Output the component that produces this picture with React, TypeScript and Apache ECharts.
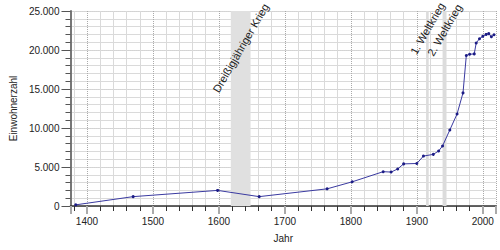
import React, { useEffect, useRef } from "react";
import * as echarts from "echarts";

const years = [1383, 1470, 1598, 1661, 1764, 1802, 1849, 1861, 1871, 1880, 1900, 1910, 1925, 1933, 1939, 1950, 1961, 1970, 1975, 1980, 1987, 1990, 1995, 2000, 2005, 2009, 2013, 2017];
const population = [150, 1200, 2000, 1200, 2200, 3100, 4400, 4350, 4750, 5400, 5450, 6400, 6620, 7050, 7700, 9750, 11800, 14500, 19300, 19450, 19500, 20900, 21450, 21750, 22000, 22100, 21700, 21950];

const periodNames = ["Dreißigjähriger Krieg", "1. Weltkrieg", "2. Weltkrieg"];
const periodStart = [1618, 1914, 1939];
const periodEnd = [1648, 1918, 1945];

const FONT = "'Liberation Sans', Arial, sans-serif";
const X_MIN = 1375;
const X_MAX = 2020;
const Y_MIN = 0;
const Y_MAX = 25000;

function fmt(v: number): string {
  return String(v).replace(/\B(?=(\d{3})+(?!\d))/g, ".");
}

export default function App() {
  const ref = useRef<HTMLDivElement>(null);
  useEffect(() => {
    if (!ref.current) return;
    const chart = echarts.init(ref.current, null, { renderer: "svg" });
    const labelOffsets = [37, 17.5, 19];
    const areaData = periodNames.map((name, i) => [
      {
        name,
        xAxis: periodStart[i],
        itemStyle: { color: i === 0 ? "#e0e0e0" : "#dcdcdc" },
        label: {
          show: true,
          position: ["50%", labelOffsets[i]],
          rotate: 60,
          align: "center",
          verticalAlign: "middle",
          color: "#222",
          fontSize: 11,
          fontFamily: FONT,
        },
      },
      { xAxis: periodEnd[i] },
    ]);

    chart.setOption({
      animation: false,
      grid: { left: 68, right: 4, top: 11, bottom: 44 },
      xAxis: {
        type: "value",
        min: X_MIN,
        max: X_MAX,
        minInterval: 100,
        maxInterval: 100,
        name: "Jahr",
        nameLocation: "middle",
        nameGap: 27,
        nameTextStyle: { color: "#222", fontSize: 10, fontFamily: FONT },
        axisLine: { show: true, lineStyle: { color: "#333", width: 1.5 } },
        axisTick: { show: true, length: 8, lineStyle: { color: "#aaa", width: 2 } },
        minorTick: { show: true, splitNumber: 5, length: 5, lineStyle: { color: "#333" } },
        axisLabel: {
          color: "#222",
          fontSize: 10,
          margin: 10,
          fontFamily: FONT,
          showMinLabel: false,
          showMaxLabel: false,
          formatter: (v: number) => String(v),
        },
        splitLine: { show: true, lineStyle: { color: "#aaa", type: "dotted", width: 1 } },
        minorSplitLine: { show: true, lineStyle: { color: "#dadada" } },
      },
      yAxis: {
        type: "value",
        min: Y_MIN,
        max: Y_MAX,
        interval: 5000,
        name: "Einwohnerzahl",
        nameLocation: "middle",
        nameGap: 52,
        nameTextStyle: { color: "#222", fontSize: 10, fontFamily: FONT },
        axisLine: { show: true, lineStyle: { color: "#777", width: 2 } },
        axisTick: { show: true, length: 9, lineStyle: { color: "#555", width: 1 } },
        minorTick: { show: true, splitNumber: 5, length: 5, lineStyle: { color: "#555" } },
        axisLabel: { color: "#222", fontSize: 10, margin: 11, fontFamily: FONT, formatter: (v: number) => fmt(v) },
        splitLine: { show: true, lineStyle: { color: "#aaa", type: "dotted", width: 1 } },
        minorSplitLine: { show: true, lineStyle: { color: "#dadada" } },
      },
      series: [
        {
          type: "line",
          data: years.map((y, i) => [y, population[i]]),
          symbol: "circle",
          symbolSize: 3,
          showSymbol: true,
          lineStyle: { color: "#3a3aa0", width: 1 },
          itemStyle: { color: "#1c1c85" },
          markArea: {
            silent: true,
            data: areaData,
          },
        },
      ],
    });

    return () => chart.dispose();
  }, []);
  return <div ref={ref} style={{ position: "absolute", left: 0, top: 0, width: 500, height: 250 }} />;
}
